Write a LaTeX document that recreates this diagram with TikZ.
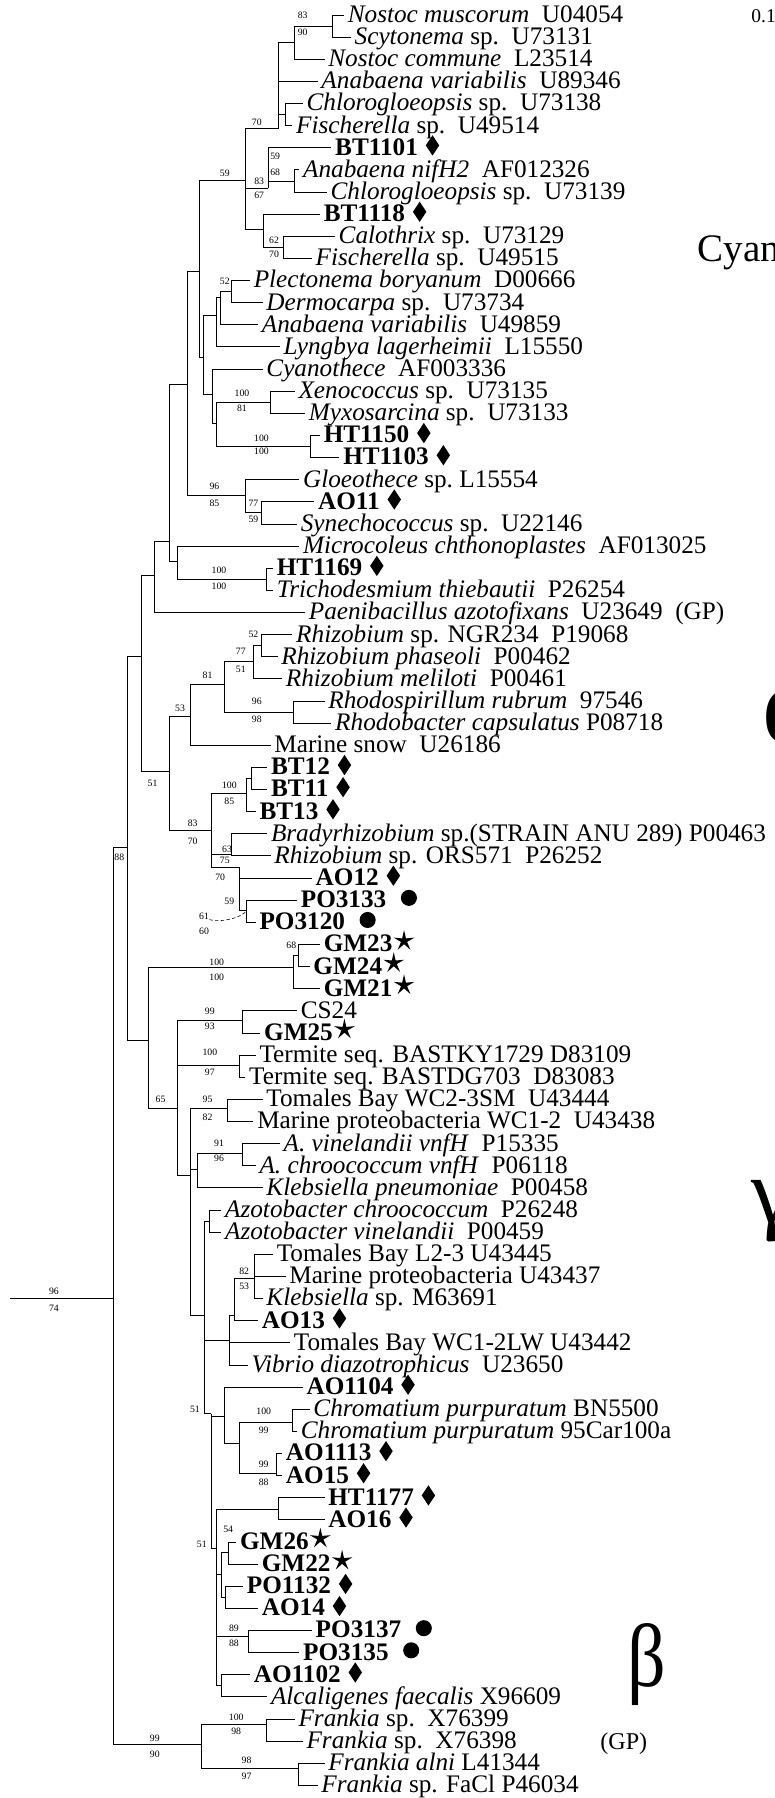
\documentclass[tikz,border=0pt]{standalone}
\usepackage{fontspec}
\setmainfont{Liberation Serif}
\usepackage{graphicx}
\usetikzlibrary{shapes.geometric}

\begin{document}
\begin{tikzpicture}[x=1pt, y=-1pt, line width=0.7pt,
  lf/.style={anchor=west, inner xsep=3pt, inner ysep=0pt, text height=15pt, text depth=2pt,
    font=\fontsize{22}{22}\selectfont},
  bs/.style={inner sep=0pt, font=\fontsize{8.5}{8.5}\selectfont},
  dia/.style={diamond, fill=black, inner sep=0pt, minimum width=12pt, minimum height=18pt, anchor=west},
  bul/.style={circle, fill=black, inner sep=0pt, minimum size=14pt, anchor=west},
  gms/.style={star, star points=5, star point ratio=3.4, fill=black, inner sep=0pt, minimum size=19pt, anchor=west},
  big/.style={anchor=base west, inner sep=0pt}]
  \useasboundingbox (0,0) rectangle (675,1568);
  \clip (0,0) rectangle (675,1568);

  \begin{scope}[yshift=3pt]
  % cyanobacteria
  \node[lf] (nmus) at (300,16) {\textit{Nostoc muscorum}\ \ U04054};
  \node[lf] (scyt) at (306,35.3) {\textit{Scytonema} sp.\ \ U73131};
  \node[lf] (ncom) at (283,54.6) {\textit{Nostoc commune}\ \ L23514};
  \node[lf] (anab1) at (277,73.9) {\textit{Anabaena variabilis}\ \ U89346};
  \node[lf] (chlo1) at (264,93.2) {\textit{Chlorogloeopsis} sp.\ \ U73138};
  \node[lf] (fisc1) at (255,112.5) {\textit{Fischerella} sp.\ \ U49514};
  \node[lf] (bt1101) at (289,131.8) {\textbf{BT1101}};
  \node[lf] (nifh2) at (261,151.1) {\textit{Anabaena nifH2}\ \ AF012326};
  \node[lf] (chlo2) at (285,170.4) {\textit{Chlorogloeopsis} sp.\ \ U73139};
  \node[lf] (bt1118) at (279,189.7) {\textbf{BT1118}};
  \node[lf] (calo) at (292,209) {\textit{Calothrix} sp.\ \ U73129};
  \node[lf] (fisc2) at (272,228.3) {\textit{Fischerella} sp.\ \ U49515};
  \node[lf] (plec) at (218,247.6) {\textit{Plectonema boryanum}\ \ D00666};
  \node[lf] (derm) at (229,266.9) {\textit{Dermocarpa} sp.\ \ U73734};
  \node[lf] (anab2) at (225,286.2) {\textit{Anabaena variabilis}\ \ U49859};
  \node[lf] (lyng) at (244,305.5) {\textit{Lyngbya lagerheimii}\ \ L15550};
  \node[lf] (cyth) at (229,324.8) {\textit{Cyanothece}\ \ AF003336};
  \node[lf] (xeno) at (257,344.1) {\textit{Xenococcus} sp.\ \ U73135};
  \node[lf] (myxo) at (266,363.4) {\textit{Myxosarcina} sp.\ \ U73133};
  \node[lf] (ht1150) at (279,382.7) {\textbf{HT1150}};
  \node[lf] (ht1103) at (296,402) {\textbf{HT1103}};
  \node[lf] (gloe) at (261,421.3) {\textit{Gloeothece} sp.\ L15554};
  \node[lf] (ao11) at (274,440.6) {\textbf{AO11}};
  \node[lf] (syne) at (259,459.9) {\textit{Synechococcus} sp.\ \ U22146};
  \node[lf] (micr) at (261,479.2) {\textit{Microcoleus chthonoplastes}\ \ AF013025};
  \node[lf] (ht1169) at (238,498.5) {\textbf{HT1169}};
  \node[lf] (tric) at (238,517.8) {\textit{Trichodesmium thiebautii}\ \ P26254};
  \node[lf] (paen) at (266,537.1) {\textit{Paenibacillus azotofixans}\ \ U23649\ \ (GP)};
  % alpha
  \node[lf] (rngr) at (255,556.4) {\textit{Rhizobium} sp. NGR234\ \ P19068};
  \node[lf] (rpha) at (242,575.7) {\textit{Rhizobium phaseoli}\ \ P00462};
  \node[lf] (rmel) at (246,595) {\textit{Rhizobium meliloti}\ \ P00461};
  \node[lf] (rspi) at (283,614.3) {\textit{Rhodospirillum rubrum}\ \ 97546};
  \node[lf] (rbac) at (289,633.6) {\textit{Rhodobacter capsulatus} P08718};
  \node[lf] (msno) at (236,652.9) {Marine snow\ \ U26186};
  \node[lf] (bt12) at (233,672.2) {\textbf{BT12}};
  \node[lf] (bt11) at (233,691.5) {\textbf{BT11}};
  \node[lf] (bt13) at (223,710.8) {\textbf{BT13}};
  \node[lf] (brad) at (233,730.1) {\textit{Bradyrhizobium} sp.(STRAIN ANU 289) P00463};
  \node[lf] (rors) at (236,749.4) {\textit{Rhizobium} sp. ORS571\ \ P26252};
  \node[lf] (ao12) at (272,768.7) {\textbf{AO12}};
  \node[lf] (po3133) at (259,788) {\textbf{PO3133}};
  \node[lf] (po3120) at (223,807.3) {\textbf{PO3120}};
  % gamma / beta
  \node[lf] (gm23) at (279,826.6) {\textbf{GM23}};
  \node[lf] (gm24) at (270,845.9) {\textbf{GM24}};
  \node[lf] (gm21) at (279,865.2) {\textbf{GM21}};
  \node[lf] (cs24) at (259,884.5) {CS24};
  \node[lf] (gm25) at (227,903.8) {\textbf{GM25}};
  \node[lf] (term1) at (223,923.1) {Termite seq. BASTKY1729 D83109};
  \node[lf] (term2) at (214,942.4) {Termite seq. BASTDG703\ \ D83083};
  \node[lf] (tom1) at (229,961.7) {Tomales Bay WC2-3SM\ \ U43444};
  \node[lf] (mar1) at (221,981) {Marine proteobacteria WC1-2\ \ U43438};
  \node[lf] (avin) at (244,1000.3) {\textit{A. vinelandii vnfH}\ \ P15335};
  \node[lf] (achr) at (223,1019.6) {\textit{A. chroococcum vnfH}\ \ P06118};
  \node[lf] (kpne) at (229,1038.9) {\textit{Klebsiella pneumoniae}\ \ P00458};
  \node[lf] (azch) at (193,1058.2) {\textit{Azotobacter chroococcum}\ \ P26248};
  \node[lf] (azvi) at (193,1077.5) {\textit{Azotobacter vinelandii}\ \ P00459};
  \node[lf] (tom2) at (238,1096.8) {Tomales Bay L2-3 U43445};
  \node[lf] (mar2) at (249,1116.1) {Marine proteobacteria U43437};
  \node[lf] (kleb) at (229,1135.4) {\textit{Klebsiella} sp. M63691};
  \node[lf] (ao13) at (225,1154.7) {\textbf{AO13}};
  \node[lf] (tom3) at (253,1174) {Tomales Bay WC1-2LW U43442};
  \node[lf] (vibr) at (216,1193.3) {\textit{Vibrio diazotrophicus}\ \ U23650};
  \node[lf] (ao1104) at (264,1212.6) {\textbf{AO1104}};
  \node[lf] (chr1) at (270,1231.9) {\textit{Chromatium purpuratum} BN5500};
  \node[lf] (chr2) at (259,1251.2) {\textit{Chromatium purpuratum} 95Car100a};
  \node[lf] (ao1113) at (246,1270.5) {\textbf{AO1113}};
  \node[lf] (ao15) at (246,1289.8) {\textbf{AO15}};
  \node[lf] (ht1177) at (283,1309.1) {\textbf{HT1177}};
  \node[lf] (ao16) at (283,1328.4) {\textbf{AO16}};
  \node[lf] (gm26) at (206,1347.7) {\textbf{GM26}};
  \node[lf] (gm22) at (225,1367) {\textbf{GM22}};
  \node[lf] (po1132) at (212,1386.3) {\textbf{PO1132}};
  \node[lf] (ao14) at (225,1405.6) {\textbf{AO14}};
  \node[lf] (po3137) at (272,1424.9) {\textbf{PO3137}};
  \node[lf] (po3135) at (261,1444.2) {\textbf{PO3135}};
  \node[lf] (ao1102) at (218,1463.5) {\textbf{AO1102}};
  \node[lf] (alca) at (233,1482.8) {\textit{Alcaligenes faecalis} X96609};
  % Frankia
  \node[lf] (fra1) at (257,1502.1) {\textit{Frankia} sp.\ \ X76399};
  \node[lf] (fra2) at (264,1521.4) {\textit{Frankia} sp.\ \ X76398};
  \node[lf] (fraa) at (283,1540.7) {\textit{Frankia alni} L41344};
  \node[lf] (frac) at (277,1560) {\textit{Frankia} sp. FaCl P46034};

  % sample markers
  \foreach \k in {bt1101,bt1118,ht1150,ht1103,ao11,ht1169,bt12,bt11,bt13,ao12,ao13,
                  ao1104,ao1113,ao15,ht1177,ao16,po1132,ao14,ao1102}
    \node[dia] (m\k) at ([xshift=3pt,yshift=2pt]\k.east) {};
  \foreach \k in {po3133,po3120,po3137,po3135}
    \node[bul] (m\k) at ([xshift=9pt,yshift=2pt]\k.east) {};
  \foreach \k in {gm23,gm24,gm21,gm25,gm26,gm22}
    \node[gms] (m\k) at ([xshift=2pt,yshift=3pt]\k.east) {};

  % internal nodes
  \coordinate (A2) at (290,25.6);  \coordinate (A1) at (257,40);
  \coordinate (A4) at (249,103);   \coordinate (A0) at (243,115);
  \coordinate (D) at (257,161);    \coordinate (C) at (234,167);
  \coordinate (F) at (247,218.6);  \coordinate (E) at (230,203);
  \coordinate (B) at (214,160);    \coordinate (G) at (202,257);
  \coordinate (P2) at (192,262);   \coordinate (P1) at (189,278);
  \coordinate (H) at (236,354);    \coordinate (I) at (271,392);
  \coordinate (P4) at (189,372);   \coordinate (P3) at (185,347);
  \coordinate (P) at (177,314.5);  \coordinate (N1) at (174,240);
  \coordinate (K) at (228,450);    \coordinate (J) at (214,435);
  \coordinate (N0) at (163,338);   \coordinate (U) at (232,508);
  \coordinate (T) at (155,493);    \coordinate (L) at (148,475);
  \coordinate (R) at (135,505);    \coordinate (Q) at (123,575);
  \coordinate (V1) at (228,566);   \coordinate (V2) at (221,580);
  \coordinate (V4) at (256,624);   \coordinate (V3) at (196,600);
  \coordinate (V5) at (166,628);   \coordinate (W1) at (219,682);
  \coordinate (W2) at (215,695);   \coordinate (W4) at (202,748.5);
  \coordinate (W7) at (215,797);   \coordinate (W6) at (209,759);
  \coordinate (W3) at (184,727);   \coordinate (V6) at (148,676);
  \coordinate (N88) at (111,742);
  \coordinate (X1) at (260,836);   \coordinate (X2) at (256,847);
  \coordinate (Y1) at (211,893);   \coordinate (Y2) at (209,932);
  \coordinate (Z2) at (198,970);   \coordinate (Z5) at (211,1009);
  \coordinate (Z3) at (172,1023);  \coordinate (Z6) at (183,1068);
  \coordinate (Z9) at (222,1118);  \coordinate (Z10) at (204,1150);
  \coordinate (Z12) at (200,1172); \coordinate (Z14) at (255,1243);
  \coordinate (Z16) at (241,1288); \coordinate (Z15) at (209,1262);
  \coordinate (Z17) at (196,1238); \coordinate (Z18) at (243,1319);
  \coordinate (Z20) at (199,1357); \coordinate (Z21) at (197,1396);
  \coordinate (Z22) at (193,1376); \coordinate (Z23) at (217,1430);
  \coordinate (Z24) at (193,1473); \coordinate (Z25) at (189,1353);
  \coordinate (Z26) at (184,1236); \coordinate (Z4) at (178,1150);
  \coordinate (Z1) at (166,1028);  \coordinate (Z0) at (155,969.5);
  \coordinate (X3) at (129,910);
  \coordinate (F1) at (232,1507);  \coordinate (F2) at (260,1545);
  \coordinate (F0) at (176,1524);
  \coordinate (R0) at (99,1135);   \coordinate (rt) at (9,1135);

  % branches
  \foreach \a/\b in {A2/nmus,A2/scyt,A1/A2,A1/ncom,A4/chlo1,A4/fisc1,A0/A1,A0/anab1,A0/A4,
      D/nifh2,D/chlo2,C/bt1101,C/D,F/calo,F/fisc2,E/bt1118,E/F,B/A0,B/C,B/E,
      G/plec,G/derm,P2/G,P2/anab2,P1/P2,P1/lyng,H/xeno,H/myxo,I/ht1150,I/ht1103,
      P4/H,P4/I,P3/cyth,P3/P4,P/P1,P/P3,N1/B,N1/P,K/ao11,K/syne,J/gloe,J/K,
      N0/N1,N0/J,U/ht1169,U/tric,T/micr,T/U,L/N0,L/T,R/L,R/paen,Q/R,Q/V6,
      V1/rngr,V1/rpha,V2/V1,V2/rmel,V4/rspi,V4/rbac,V3/V2,V3/V4,V5/V3,V5/msno,
      W1/bt12,W1/bt11,W2/W1,W2/bt13,W4/brad,W4/rors,W7/po3133,W7/po3120,
      W6/ao12,W6/W7,W3/W2,W3/W4,W3/W6,V6/V5,V6/W3,N88/Q,N88/X3,
      X1/gm23,X1/gm24,X2/X1,X2/gm21,Y1/cs24,Y1/gm25,Y2/term1,Y2/term2,
      Z2/tom1,Z2/mar1,Z5/avin,Z5/achr,Z3/Z5,Z3/kpne,Z6/azch,Z6/azvi,
      Z9/tom2,Z9/mar2,Z9/kleb,Z10/Z9,Z10/ao13,Z12/Z10,Z12/tom3,Z12/vibr,
      Z14/chr1,Z14/chr2,Z16/ao1113,Z16/ao15,Z15/Z14,Z15/Z16,Z17/ao1104,Z17/Z15,
      Z18/ht1177,Z18/ao16,Z20/gm26,Z20/gm22,Z21/po1132,Z21/ao14,Z22/Z20,Z22/Z21,
      Z23/po3137,Z23/po3135,Z24/ao1102,Z24/alca,Z25/Z18,Z25/Z22,Z25/Z23,Z25/Z24,
      Z26/Z17,Z26/Z25,Z4/Z6,Z4/Z12,Z4/Z26,Z1/Z2,Z1/Z3,Z1/Z4,Z0/Y1,Z0/Y2,Z0/Z1,
      X3/X2,X3/Z0,F1/fra1,F1/fra2,F2/fraa,F2/frac,F0/F1,F0/F2,R0/N88,R0/F0,rt/R0}
    \draw (\a) |- (\b);

  % bootstrap values
  \foreach \t/\x/\y [count=\i] in {83/264/16,90/264/31,70/224/110,59/240/139,68/240/153,
      83/226/161,67/226/173,59/196/154,62/239/213,70/239/225,52/196/248,100/211/346,
      81/211/359,100/228/385,100/228/397,96/187/427,85/187/442,77/221/442,59/221/456,
      100/191/500,100/191/514,52/221/556,77/210/571,51/210/587,81/181/592,96/224/615,
      98/224/630,53/157/621,51/133/686,100/200/688,85/200/702,83/168/721,70/168/737,
      63/198/744,75/196/753,70/192/768,59/200/789,88/104/751,68/254/827,100/189/842,
      100/189/855,99/183/885,93/183/898,100/183/921,97/183/938,65/140/962,95/181/962,
      82/181/977,91/191/1000,96/191/1013,82/213/1112,53/213/1125,96/47/1129,74/47/1144,
      51/170/1232,100/230/1234,99/230/1250,99/230/1280,88/230/1296,54/199/1337,
      51/176/1350,89/204/1423,88/204/1436,100/206/1501,98/206/1513,99/135/1519,
      90/135/1533,98/215/1538,97/215/1552}
    \node[bs] (b\i) at (\x,\y) {\t};
  \node[bs] (b61) at (178,802) {61};
  \node[bs] (b60) at (178,815) {60};
  \draw[densely dashed, line width=0.5pt] ([yshift=-3pt]b61.east)
    .. controls +(10pt,-3pt) and +(-3pt,-6pt) .. (W7);
  \end{scope}

  % group names
  \node[big, font=\fontsize{34}{34}\selectfont] (cyan) at (608,228) {Cyanobacteria};
  \node[big, font=\fontsize{95}{95}\selectfont] (alph) at (665,647) {α};
  \node[big, font=\fontsize{80}{80}\selectfont] (gamm) at (655,1066) {γ};
  \node[big, font=\fontsize{78}{78}\selectfont] (beta) at (547,1471) {\scalebox{0.85}[1]{β}};
  \node[inner sep=0pt, font=\fontsize{21}{21}\selectfont] (gp) at (544,1521) {(GP)};
  \node[anchor=west, inner sep=0pt, font=\fontsize{17}{17}\selectfont] (scl) at (655,14) {0.1};
\end{tikzpicture}
\end{document}
